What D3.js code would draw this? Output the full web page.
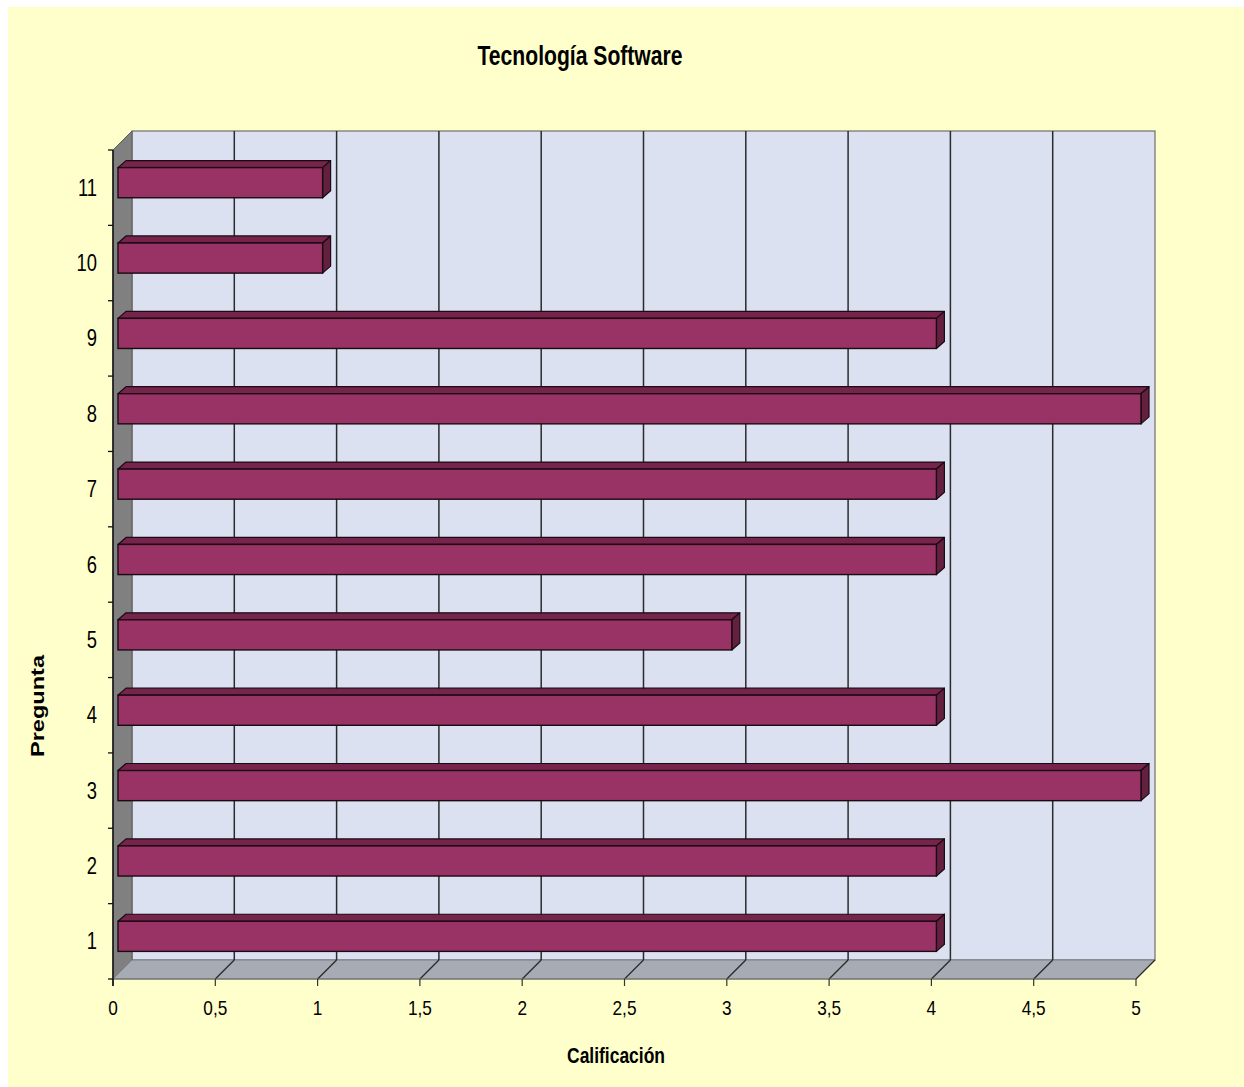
<!DOCTYPE html>
<html>
<head>
<meta charset="utf-8">
<script src="https://cdn.jsdelivr.net/npm/d3@7"></script>
<style>
  html, body { margin: 0; padding: 0; background: #ffffff; }
  svg { display: block; }
  text { font-family: "Liberation Sans", Arial, sans-serif; fill: #000; }
</style>
</head>
<body>
<svg id="chart" width="1244" height="1087"></svg>
<script>
// ---- data ----
const categories = ["1", "2", "3", "4", "5", "6", "7", "8", "9", "10", "11"];
const values = [4, 4, 5, 4, 3, 4, 4, 5, 4, 1, 1];
const xTickValues = [0, 0.5, 1, 1.5, 2, 2.5, 3, 3.5, 4, 4.5, 5];
const chartTitle = "Tecnología Software";
const xTitle = "Calificación";
const yTitle = "Pregunta";

(function () {
// ---- layout ----
const svg = d3.select("#chart");
const W = 1244, H = 1087;
const pLeft = 113, pRight = 1136, pTop = 150, pBottom = 979;
const D = 19;          // wall depth offset
const bOff = 5;        // bar front offset into depth
const bdx = 8, bdy = 7; // bar depth

const x = d3.scaleLinear().domain([0, 5]).range([pLeft, pRight]);
const y = d3.scaleBand().domain(categories).range([pBottom, pTop])
  .paddingInner(0.6).paddingOuter(0.3);

// background
svg.append("rect").attr("x", 0).attr("y", 0).attr("width", W).attr("height", H).attr("fill", "#ffffff");
svg.append("rect").attr("x", 8).attr("y", 7).attr("width", W - 8).attr("height", H - 7).attr("fill", "#ffffcc");

const pts = a => a.map(p => p.join(",")).join(" ");

// back wall
svg.append("rect")
  .attr("x", pLeft + D).attr("y", pTop - D)
  .attr("width", pRight - pLeft).attr("height", pBottom - pTop)
  .attr("fill", "#dbe1f1").attr("stroke", "#6e6e6e").attr("stroke-width", 1.2);

// left side wall
svg.append("polygon")
  .attr("points", pts([[pLeft, pTop], [pLeft + D, pTop - D], [pLeft + D, pBottom - D], [pLeft, pBottom]]))
  .attr("fill", "#808080").attr("stroke", "#5a5a5a").attr("stroke-width", 1);

// floor
svg.append("polygon")
  .attr("points", pts([[pLeft, pBottom], [pRight, pBottom], [pRight + D, pBottom - D], [pLeft + D, pBottom - D]]))
  .attr("fill", "#a6abb4").attr("stroke", "#7d7f85").attr("stroke-width", 1);

// gridlines on back wall
const innerTicks = xTickValues.filter(v => v > 0 && v < 5);
svg.append("g").selectAll("line").data(innerTicks).join("line")
  .attr("x1", d => x(d) + D).attr("x2", d => x(d) + D)
  .attr("y1", pTop - D).attr("y2", pBottom - D)
  .attr("stroke", "#2b2b2b").attr("stroke-width", 1.5);

// floor diagonals
svg.append("g").selectAll("line").data(xTickValues.filter(v => v > 0)).join("line")
  .attr("x1", d => x(d)).attr("y1", pBottom)
  .attr("x2", d => x(d) + D).attr("y2", pBottom - D)
  .attr("stroke", "#2b2b2b").attr("stroke-width", 1.3);

// x axis front line and ticks
svg.append("line").attr("x1", pLeft).attr("x2", pRight).attr("y1", pBottom).attr("y2", pBottom)
  .attr("stroke", "#6a6a6a").attr("stroke-width", 1.2);
svg.append("g").selectAll("line").data(xTickValues).join("line")
  .attr("x1", d => x(d)).attr("x2", d => x(d))
  .attr("y1", pBottom).attr("y2", pBottom + 7)
  .attr("stroke", "#333").attr("stroke-width", 1.2);

// y axis front line and ticks
svg.append("line").attr("x1", pLeft).attr("x2", pLeft).attr("y1", pTop).attr("y2", pBottom + 7)
  .attr("stroke", "#111").attr("stroke-width", 1.5);
const step = y.step();
const bounds = categories.map(c => y(c) + y.bandwidth() / 2 + step / 2);
bounds.push(pTop);
svg.append("g").selectAll("line").data(bounds).join("line")
  .attr("x1", pLeft - 5).attr("x2", pLeft)
  .attr("y1", d => d).attr("y2", d => d)
  .attr("stroke", "#111").attr("stroke-width", 1.3);

// bars
const bars = categories.map((c, i) => ({ c, v: values[i] }));
const gb = svg.append("g");
bars.forEach(d => {
  const x0 = x(0) + bOff, x1 = x(d.v) + bOff;
  const yt = y(d.c) - bOff, yb = yt + y.bandwidth();
  gb.append("polygon")
    .attr("points", pts([[x0, yt], [x1, yt], [x1 + bdx, yt - bdy], [x0 + bdx, yt - bdy]]))
    .attr("fill", "#76244c").attr("stroke", "#1a0a12").attr("stroke-width", 1.2).attr("stroke-linejoin", "round");
  gb.append("polygon")
    .attr("points", pts([[x1, yt], [x1 + bdx, yt - bdy], [x1 + bdx, yb - bdy], [x1, yb]]))
    .attr("fill", "#64203f").attr("stroke", "#1a0a12").attr("stroke-width", 1.2).attr("stroke-linejoin", "round");
  gb.append("rect")
    .attr("x", x0).attr("y", yt).attr("width", x1 - x0).attr("height", yb - yt)
    .attr("fill", "#993366").attr("stroke", "#1a0a12").attr("stroke-width", 1.4);
});

// text helpers: condensed text
function ctext(parent, str, tx, ty, size, weight, anchor, sx, rotate) {
  const g = parent.append("g");
  const t = g.append("text").text(str)
    .attr("font-size", size).attr("font-weight", weight)
    .attr("text-anchor", anchor);
  g.attr("transform", `translate(${tx},${ty})` + (rotate ? ` rotate(${rotate})` : "") + ` scale(${sx},1)`);
  return t;
}
function fitText(parent, str, tx, ty, size, weight, width, rotate) {
  const g = parent.append("g");
  const t = g.append("text").text(str)
    .attr("font-size", size).attr("font-weight", weight).attr("text-anchor", "middle");
  const len = t.node().getComputedTextLength();
  const sx = width / len;
  g.attr("transform", `translate(${tx},${ty})` + (rotate ? ` rotate(${rotate})` : "") + ` scale(${sx},1)`);
  return t;
}

// x tick labels
xTickValues.forEach(v => {
  ctext(svg, String(v).replace(".", ","), x(v), 1015, 21, "normal", "middle", 0.82);
});
// y tick labels
categories.forEach(c => {
  ctext(svg, c, 97, y(c) + y.bandwidth() / 2 + 8, 23, "normal", "end", 0.8);
});

// titles
fitText(svg, chartTitle, 580, 65, 28, "bold", 205);
fitText(svg, xTitle, 616, 1063, 23, "bold", 98);
fitText(svg, yTitle, 44, 706, 18, "bold", 102, -90);
})();
</script>
</body>
</html>
